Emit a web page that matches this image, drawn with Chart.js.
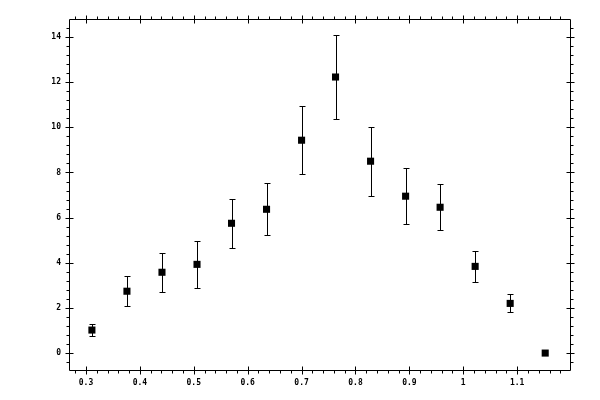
<!DOCTYPE html>
<html>
<head>
<meta charset="utf-8">
<script src="https://cdn.jsdelivr.net/npm/chart.js@4/dist/chart.umd.min.js"></script>
<style>
  body { margin: 0; background: #fff; }
  #wrap { width: 600px; height: 400px; }
</style>
</head>
<body>
<div id="wrap"><canvas id="myChart" width="600" height="400"></canvas></div>
<script>
// values
var xVals = [0.311, 0.376, 0.441, 0.506, 0.570, 0.635, 0.700, 0.763, 0.828, 0.893, 0.957, 1.022, 1.087, 1.152];
var yVals = [1.02, 2.74, 3.58, 3.93, 5.75, 6.37, 9.43, 12.23, 8.50, 6.95, 6.46, 3.84, 2.20, 0];
var yErr  = [0.28, 0.66, 0.86, 1.03, 1.08, 1.15, 1.51, 1.84, 1.53, 1.24, 1.02, 0.70, 0.40, 0];

var xTicks = [0.3, 0.4, 0.5, 0.6, 0.7, 0.8, 0.9, 1, 1.1];
var yTicks = [0, 2, 4, 6, 8, 10, 12, 14];

var points = xVals.map(function (x, i) { return { x: x, y: yVals[i] }; });

// error bars, drawn under the squares
var errorBars = {
  id: 'errorBars',
  beforeDatasetsDraw: function (chart) {
    var ctx = chart.ctx, xs = chart.scales.x, ys = chart.scales.y;
    ctx.save();
    ctx.strokeStyle = '#000';
    ctx.lineWidth = 1;
    ctx.beginPath();
    for (var i = 0; i < xVals.length; i++) {
      if (!yErr[i]) continue;
      var px = Math.round(xs.getPixelForValue(xVals[i])) + 0.5;
      var top = Math.round(ys.getPixelForValue(yVals[i] + yErr[i])) + 0.5;
      var bot = Math.round(ys.getPixelForValue(yVals[i] - yErr[i])) + 0.5;
      ctx.moveTo(px, top); ctx.lineTo(px, bot);
      ctx.moveTo(px - 3, top); ctx.lineTo(px + 3, top);
      ctx.moveTo(px - 3, bot); ctx.lineTo(px + 3, bot);
    }
    ctx.stroke();
    ctx.restore();
  }
};

// box with ticks on all four sides
var frame = {
  id: 'frame',
  afterDraw: function (chart) {
    var ctx = chart.ctx, a = chart.chartArea, xs = chart.scales.x, ys = chart.scales.y;
    var L = Math.round(a.left) + 0.5, R = Math.round(a.right) + 0.5;
    var T = Math.round(a.top) + 0.5, B = Math.round(a.bottom) + 0.5;
    ctx.save();
    ctx.strokeStyle = '#000';
    ctx.lineWidth = 1;
    ctx.beginPath();
    ctx.rect(L, T, R - L, B - T);

    // x ticks
    for (var k = 0; k <= 60; k++) {
      var v = Math.round((0.2 + k * 0.02) * 100) / 100;
      if (v <= xs.min || v >= xs.max) continue;
      var px = Math.round(xs.getPixelForValue(v)) + 0.5;
      var major = Math.abs(v * 10 - Math.round(v * 10)) < 1e-6;
      if (major) {
        ctx.moveTo(px, B - 4); ctx.lineTo(px, B + 4);
        ctx.moveTo(px, T - 4); ctx.lineTo(px, T + 4);
      } else {
        ctx.moveTo(px, B); ctx.lineTo(px, B + 3);
        ctx.moveTo(px, T); ctx.lineTo(px, T - 3);
      }
    }
    // y ticks
    for (var j = -5; j <= 40; j++) {
      var w = Math.round(j * 0.4 * 10) / 10;
      if (w <= ys.min || w >= ys.max) continue;
      var py = Math.round(ys.getPixelForValue(w)) + 0.5;
      var majorY = Math.abs(w / 2 - Math.round(w / 2)) < 1e-6;
      if (majorY) {
        ctx.moveTo(L - 4, py); ctx.lineTo(L + 4, py);
        ctx.moveTo(R - 4, py); ctx.lineTo(R + 4, py);
      } else {
        ctx.moveTo(L, py); ctx.lineTo(L - 3, py);
        ctx.moveTo(R, py); ctx.lineTo(R + 3, py);
      }
    }
    ctx.stroke();
    ctx.restore();
  }
};

var tickFont = { family: 'DejaVu Sans Mono', size: 8, weight: 'bold' };

var ctx = document.getElementById('myChart');
var myChart = new Chart(ctx, {
  type: 'scatter',
  data: {
    datasets: [{
      data: points,
      pointStyle: 'rect',
      pointRadius: 5,
      pointHoverRadius: 5,
      backgroundColor: '#000',
      borderColor: '#000',
      borderWidth: 0,
      showLine: false
    }]
  },
  options: {
    responsive: false,
    animation: false,
    devicePixelRatio: 1,
    layout: { padding: { top: 19, right: 30, left: 0, bottom: 0 } },
    plugins: { legend: { display: false }, tooltip: { enabled: false } },
    scales: {
      x: {
        type: 'linear',
        min: 0.2685,
        max: 1.198,
        grid: { display: false, drawTicks: false },
        border: { display: false },
        afterBuildTicks: function (s) { s.ticks = xTicks.map(function (v) { return { value: v }; }); },
        afterFit: function (s) { s.height = 30; },
        ticks: {
          autoSkip: false,
          maxRotation: 0,
          padding: 8,
          color: '#000',
          font: tickFont,
          callback: function (v) { return String(Math.round(v * 10) / 10); }
        }
      },
      y: {
        type: 'linear',
        min: -0.75,
        max: 14.8,
        grid: { display: false, drawTicks: false },
        border: { display: false },
        afterBuildTicks: function (s) { s.ticks = yTicks.map(function (v) { return { value: v }; }); },
        afterFit: function (s) { s.width = 69; },
        ticks: {
          autoSkip: false,
          padding: 8,
          color: '#000',
          font: tickFont,
          callback: function (v) { return String(v); }
        }
      }
    }
  },
  plugins: [errorBars, frame]
});
</script>
</body>
</html>
